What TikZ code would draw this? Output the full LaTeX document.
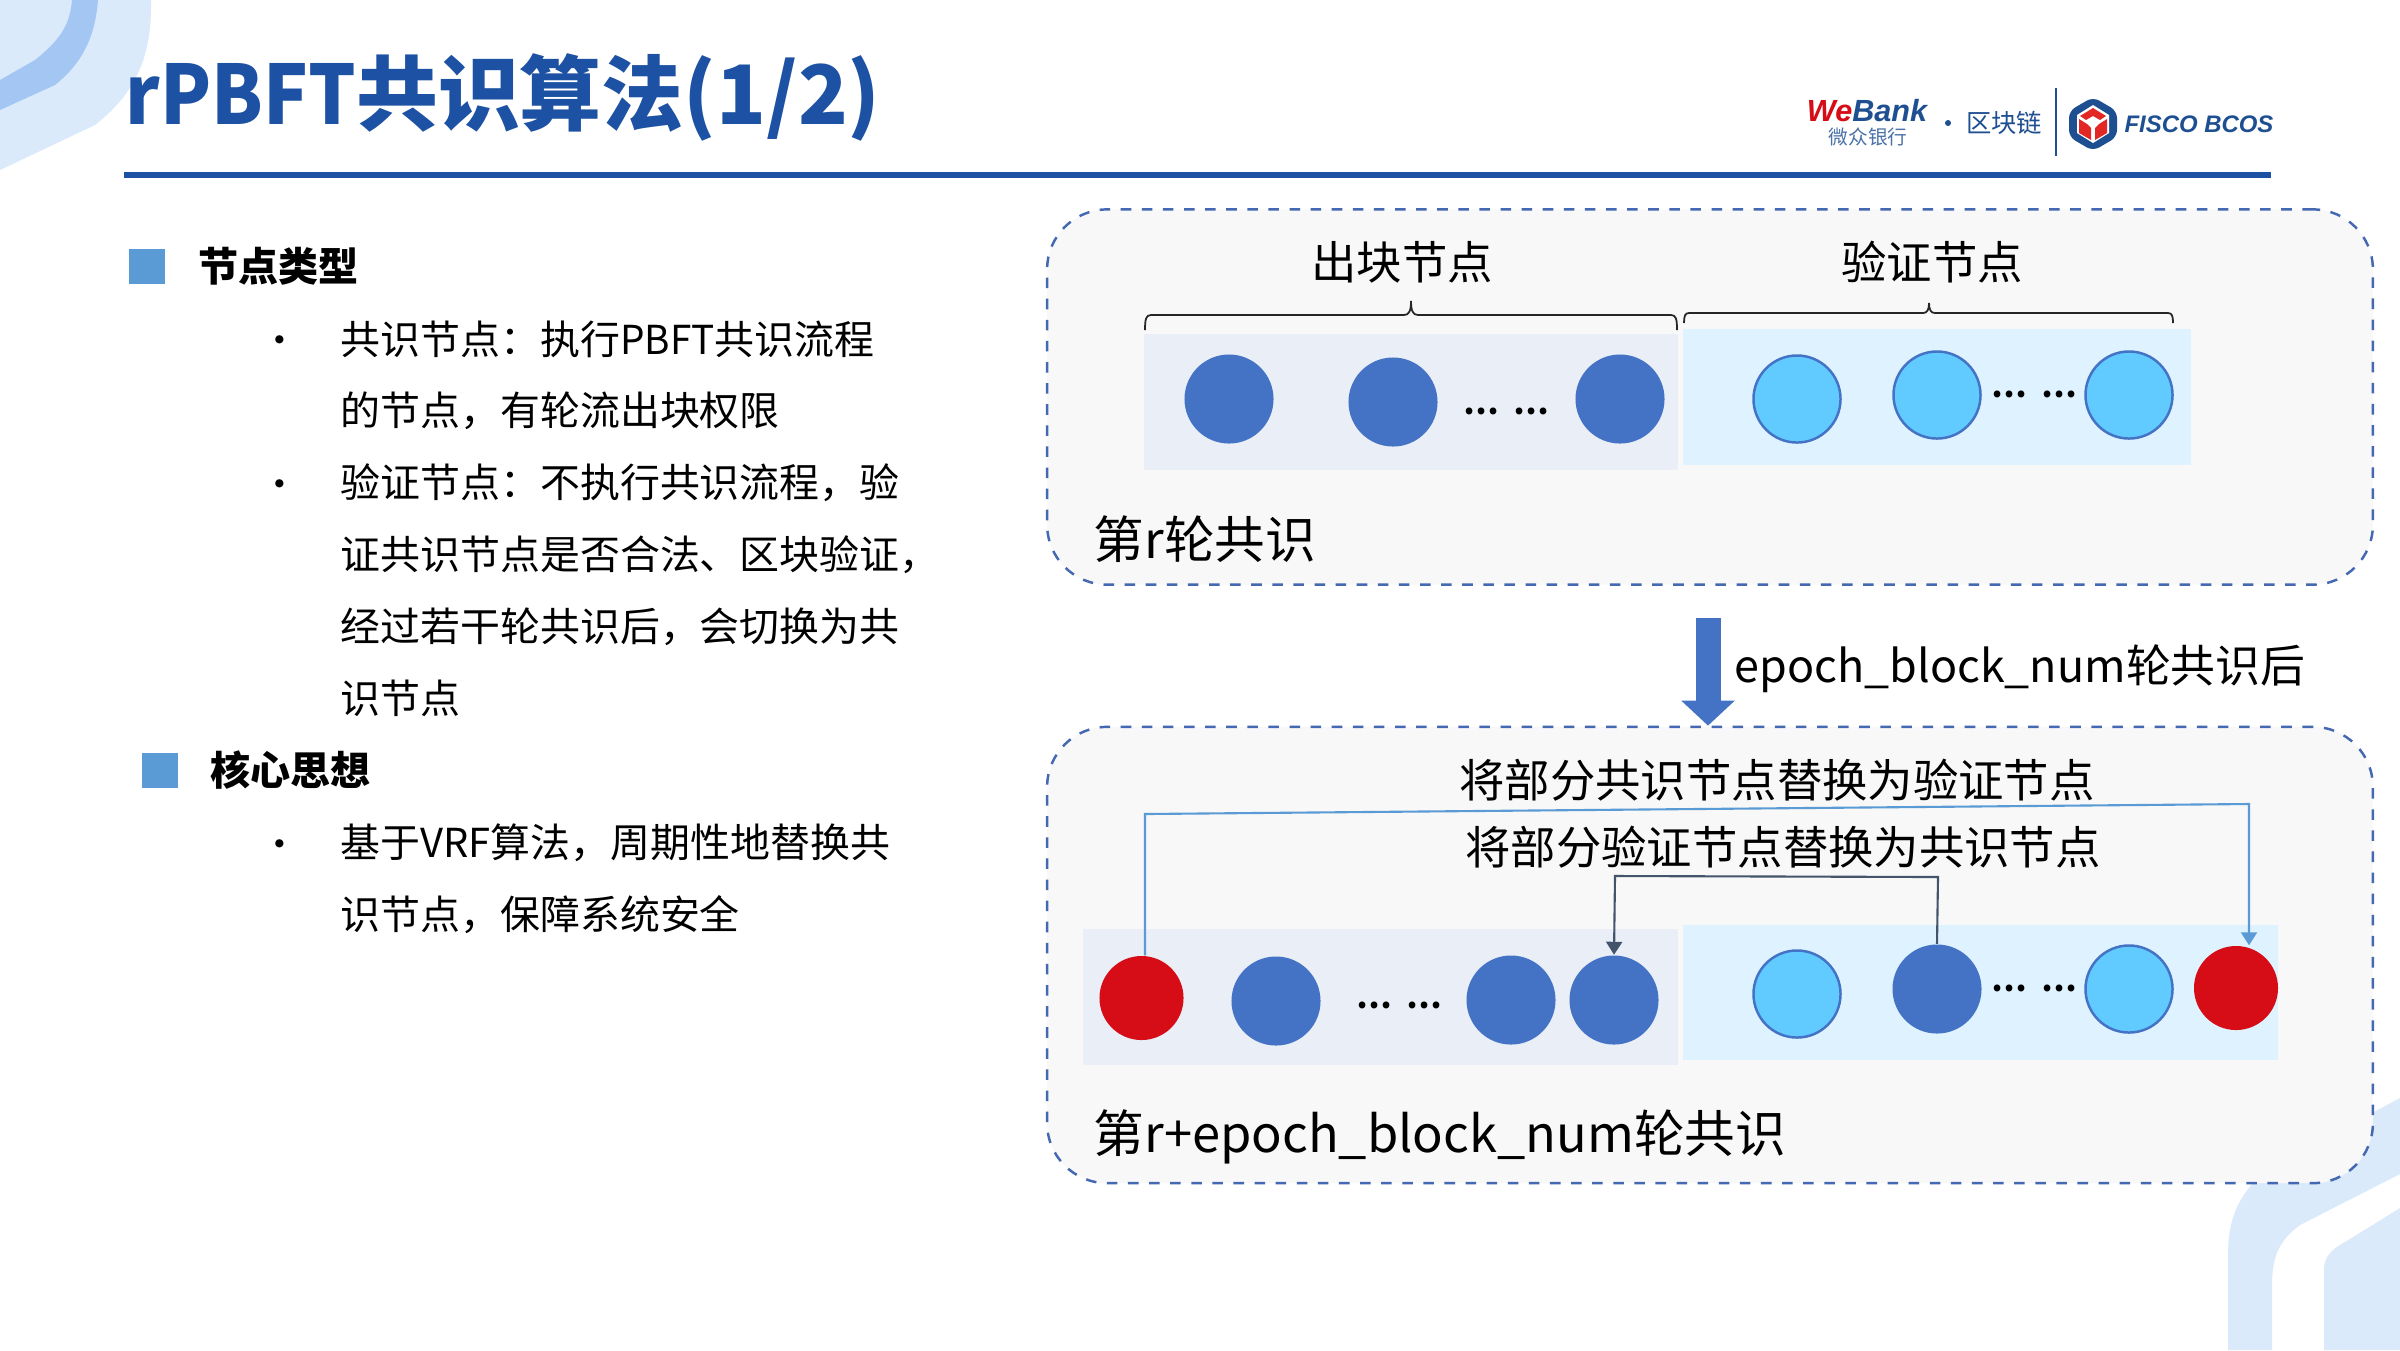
\documentclass[tikz,border=0pt]{standalone}
\usepackage{fontspec}
\setmainfont{Noto Sans CJK SC}
\newfontfamily\logofont{Liberation Sans}
\usetikzlibrary{arrows.meta}
\tikzset{
  roundbox/.style={draw=boxedge, fill=boxfill, dashed, line width=0.7pt, rounded corners=0.6cm, inner sep=0pt, minimum width=13.25cm},
  zonebox/.style={inner sep=0pt, minimum width=#1},
  minernode/.style={circle, fill=minerblue, inner sep=0pt, minimum size=0.89cm},
  checknode/.style={circle, fill=checkblue, draw=minerblue, line width=0.7pt, inner sep=0pt, minimum size=0.87cm},
  swapnode/.style={circle, fill=swapred, inner sep=0pt, minimum size=0.84cm},
  bodytext/.style={font=\fontsize{11.35pt}{13pt}\selectfont, anchor=west, inner sep=0pt},
  headtext/.style={font=\fontsize{11.4pt}{13pt}\selectfont\bfseries, anchor=west, inner sep=0pt},
  bigtext/.style={font=\fontsize{12.9pt}{15pt}\selectfont, inner sep=0pt},
  hugetext/.style={font=\fontsize{14.4pt}{17pt}\selectfont, anchor=west, inner sep=0pt},
  bulletdot/.style={font=\fontsize{11pt}{13pt}\selectfont, inner sep=0pt},
  dotstext/.style={font=\fontsize{9pt}{11pt}\selectfont\bfseries, inner sep=0pt},
  headmark/.style={fill=markblue, inner sep=0pt, minimum width=0.35cm, minimum height=0.35cm},
  bracket/.style={black!85, line width=0.5pt},
}
\begin{document}
\begin{tikzpicture}[x=0.01cm, y=-0.01cm]
\definecolor{titleblue}{RGB}{29,81,163}
\definecolor{boxedge}{RGB}{68,104,178}
\definecolor{boxfill}{RGB}{248,248,248}
\definecolor{minerblue}{RGB}{68,114,196}
\definecolor{checkblue}{RGB}{97,203,255}
\definecolor{swapred}{RGB}{214,12,22}
\definecolor{minerzone}{RGB}{233,238,247}
\definecolor{checkzone}{RGB}{222,242,255}
\definecolor{markblue}{RGB}{91,155,213}
\definecolor{decolight}{RGB}{219,234,251}
\definecolor{decomid}{RGB}{163,198,243}
\definecolor{logoblue}{RGB}{29,79,145}
\definecolor{logored}{RGB}{226,39,36}
\definecolor{swapline}{RGB}{91,155,213}
\definecolor{backline}{RGB}{68,84,106}
\useasboundingbox (0,0) rectangle (2400,1350);
\fill[white] (0,0) rectangle (2400,1350);
% corners
\fill[decolight] (0,0) -- (151,0) .. controls (152,50) and (140,90) .. (95,125) -- (0,170) -- cycle;
\fill[decomid] (72,0) -- (98,0) .. controls (95,40) and (80,65) .. (55,85) -- (0,110) -- (0,80) -- (35,60) .. controls (60,40) and (70,25) .. (72,0) -- cycle;
\fill[decolight] (2228,1350) -- (2228,1255) .. controls (2228,1215) and (2240,1195) .. (2265,1170) -- (2400,1098) -- (2400,1174) -- (2300,1225) .. controls (2280,1240) and (2272,1255) .. (2272,1285) -- (2272,1350) -- cycle;
\fill[decolight] (2324,1350) -- (2324,1270) .. controls (2324,1258) and (2330,1250) .. (2345,1242) -- (2400,1208) -- (2400,1350) -- cycle;
% title
\node[font=\fontsize{23.3pt}{28pt}\selectfont\bfseries, text=titleblue, anchor=west, inner sep=0pt] (title) at (125,97) {\scalebox{0.91}[1]{rPBFT}共识算法(1/2)};
\fill[titleblue] (124,172) rectangle (2271,178);
% logos
\node[font=\logofont\fontsize{8.7pt}{11pt}\selectfont\bfseries\itshape, inner sep=0pt] (webank) at (1867,111) {\textcolor{swapred}{We}\textcolor{logoblue}{Bank}};
\node[font=\fontsize{5.6pt}{7pt}\selectfont, text=logoblue!80, inner sep=0pt] (webankcn) at (1868,137) {微众银行};
\node[font=\fontsize{7.2pt}{9pt}\selectfont, text=logoblue, inner sep=0pt] (chain) at (2004,123) {区块链};
\fill[logoblue] (1948,123) circle (3);
\draw[logoblue, line width=0.4pt] (2056,88) -- (2056,156);
\fill[logoblue, rounded corners=2pt] (2093,97) -- (2117,111) -- (2117,137) -- (2093,151) -- (2069,137) -- (2069,111) -- cycle;
\fill[white] (2093,105) -- (2109,115) -- (2109,133) -- (2093,143) -- (2077,133) -- (2077,115) -- cycle;
\fill[logored] (2093,108) -- (2106,116) -- (2100,120) -- (2093,116) -- (2086,120) -- (2080,116) -- cycle;
\fill[logored] (2079,119) -- (2087,124) -- (2091,128) -- (2091,140) -- (2079,133) -- cycle;
\fill[logored] (2107,119) -- (2099,124) -- (2095,128) -- (2095,140) -- (2107,133) -- cycle;
\node[font=\logofont\fontsize{6.8pt}{9pt}\selectfont\bfseries\itshape, text=logoblue, inner sep=0pt] (fisco) at (2199,124) {FISCO BCOS};
% left text
\node[headmark] (marka) at (147,266) {};
\node[headtext] (heada) at (198,266) {节点类型};
\node[bulletdot] (dota) at (280,345) {•};
\node[bodytext] (linea) at (340,339) {共识节点：执行\scalebox{0.97}[1]{PBFT}共识流程};
\node[bodytext] (lineb) at (340,411) {的节点，有轮流出块权限};
\node[bulletdot] (dotb) at (280,489) {•};
\node[bodytext] (linec) at (340,483) {验证节点：不执行共识流程，验};
\node[bodytext] (lined) at (340,555) {证共识节点是否合法、区块验证，};
\node[bodytext] (linee) at (340,627) {经过若干轮共识后，会切换为共};
\node[bodytext] (linef) at (340,698) {识节点};
\node[headmark] (markb) at (160,770) {};
\node[headtext] (headb) at (210,770) {核心思想};
\node[bulletdot] (dotc) at (280,849) {•};
\node[bodytext] (lineg) at (340,843) {基于VRF算法，周期性地替换共};
\node[bodytext] (lineh) at (340,915) {识节点，保障系统安全};
% round r
\node[roundbox, minimum height=3.75cm] (roundr) at (1710,397) {};
\node[zonebox=5.33cm, minimum height=1.35cm, fill=minerzone] (zonea) at (1411,402) {};
\node[zonebox=5.08cm, minimum height=1.35cm, fill=checkzone] (zoneb) at (1937,397) {};
\node[bigtext] (labela) at (1402,262) {出块节点};
\node[bigtext] (labelb) at (1932,262) {验证节点};
\draw[bracket] (1145,330) .. controls (1145,319) and (1146,315) .. (1151,315) -- (1404,315) .. controls (1409,315) and (1411,311) .. (1411,301) .. controls (1411,311) and (1413,315) .. (1418,315) -- (1671,315) .. controls (1676,315) and (1677,319) .. (1677,330);
\draw[bracket] (1684,323) .. controls (1684,316) and (1685,313) .. (1689,313) -- (1923,313) .. controls (1927,313) and (1929,310) .. (1929,303) .. controls (1929,310) and (1931,313) .. (1935,313) -- (2168,313) .. controls (2172,313) and (2173,316) .. (2173,323);
\node[minernode] (ra) at (1229,399) {};
\node[minernode] (rb) at (1393,402) {};
\node[dotstext] (rdots) at (1506,411) {…\hspace{0.14cm}…};
\node[minernode] (rc) at (1620,399) {};
\node[checknode] (rd) at (1797,399) {};
\node[checknode] (re) at (1937,395) {};
\node[dotstext] (rfdots) at (2034,394) {…\hspace{0.14cm}…};
\node[checknode] (rf) at (2129,395) {};
\node[hugetext] (roundlabela) at (1093,539) {第r轮共识};
% step between rounds
\node[roundbox, minimum height=4.56cm] (roundn) at (1710,955) {};
\coordinate (stepstart) at (1708,618);
\draw[-{Triangle[length=0.25cm, width=0.52cm]}, minerblue, line width=0.25cm] (stepstart) -- (stepstart |- roundn.north);
\node[font=\fontsize{12.75pt}{15pt}\selectfont, anchor=west, inner sep=0pt] (steplabel) at (1734,669) {epoch\_block\_num轮共识后};
% round r+epoch
\node[zonebox=5.95cm, minimum height=1.36cm, fill=minerzone] (zonec) at (1380.5,997) {};
\node[zonebox=5.95cm, minimum height=1.35cm, fill=checkzone] (zoned) at (1980.5,992.5) {};
\node[swapnode] (na) at (1141.5,998) {};
\node[minernode] (nb) at (1276,1001) {};
\node[dotstext] (ndots) at (1399,1005) {…\hspace{0.14cm}…};
\node[minernode] (nc) at (1511,1000) {};
\node[minernode] (nd) at (1614,1000) {};
\node[checknode] (ne) at (1797,994) {};
\node[minernode] (nf) at (1937,989) {};
\node[dotstext] (nfdots) at (2034,988) {…\hspace{0.14cm}…};
\node[checknode] (ng) at (2129,989) {};
\node[swapnode] (nh) at (2236,988) {};
\coordinate (swapa) at (1145,814);
\coordinate (swapb) at (2249,804);
\coordinate (backa) at (1938,877);
\coordinate (backb) at (1615,876);
\draw[-{Triangle[length=0.13cm, width=0.16cm]}, swapline, line width=0.6pt] (na.north -| swapa) -- (swapa) -- (swapb) -- (swapb |- nh.north);
\draw[-{Triangle[length=0.13cm, width=0.16cm]}, backline, line width=0.6pt] (nf.north) -- (backa) -- (backb) -- (nd.north);
\node[bigtext] (swaplabela) at (1777,780) {将部分共识节点替换为验证节点};
\node[bigtext] (swaplabelb) at (1783,847) {将部分验证节点替换为共识节点};
\node[hugetext] (roundlabelb) at (1093,1137) {第r+epoch\_block\_num轮共识};
\end{tikzpicture}
\end{document}
